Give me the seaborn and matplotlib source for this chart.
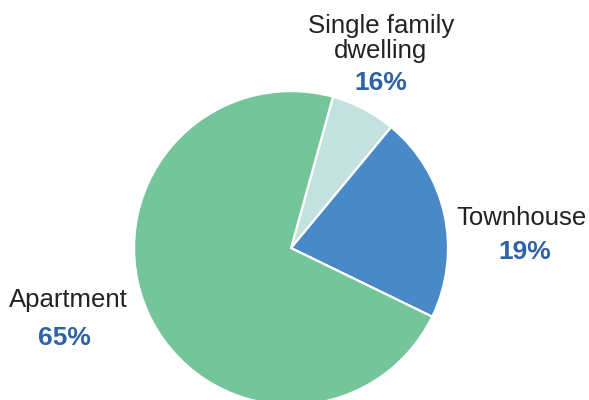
import matplotlib
matplotlib.use("Agg")
import matplotlib.pyplot as plt
import seaborn as sns

# slice sizes as drawn (degrees, converted to shares)
categories = ["Single family\ndwelling", "Townhouse", "Apartment"]
shares = [6.7, 21.2, 72.1]
pct_labels = ["16%", "19%", "65%"]
colors = ["#c3e2df", "#4a89c8", "#74c69a"]

# label anchor points (data units, pie radius = 1), baseline of last line
label_pos = [(0.573, 1.21), (1.465, 0.146), (-1.42, -0.376)]
pct_pos = [(0.573, 1.006), (1.49, -0.07), (-1.445, -0.618)]


def main():
    sns.set_theme(style="white")
    plt.rcParams["font.family"] = ["Liberation Sans", "DejaVu Sans"]

    fig = plt.figure(figsize=(5.89, 4.0), dpi=100)
    ax = fig.add_axes([0, 0, 1, 1])

    ax.pie(shares, colors=colors, startangle=74.5, counterclock=False,
           radius=1.0, wedgeprops=dict(edgecolor="white", linewidth=1.6))

    for name, (x, y) in zip(categories, label_pos):
        ax.text(x, y, name, ha="center", va="baseline", fontsize=18.5,
                color="#222222", linespacing=1.07)
    for pct, (x, y) in zip(pct_labels, pct_pos):
        ax.text(x, y, pct, ha="center", va="baseline", fontsize=19,
                fontweight="bold", color="#2e62a8")

    ax.set_xlim(-1.854, 1.898)
    ax.set_ylim(-0.968, 1.580)
    ax.set_aspect("equal")
    ax.axis("off")

    fig.savefig("out.png", dpi=100)


if __name__ == "__main__":
    main()
